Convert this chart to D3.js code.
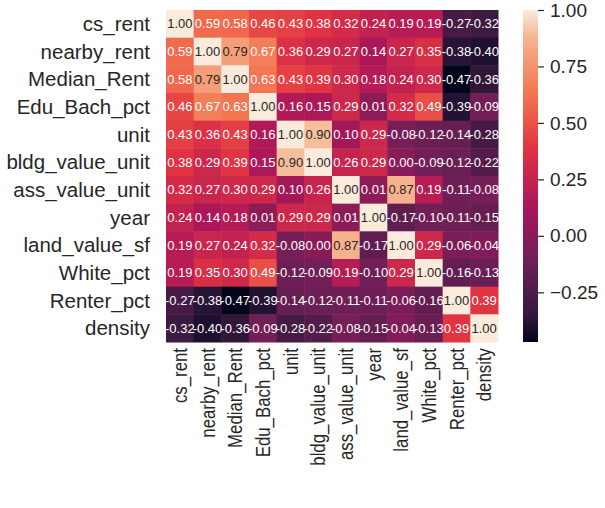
<!DOCTYPE html>
<html>
<head>
<meta charset="utf-8">
<script src="https://cdn.jsdelivr.net/npm/d3@7"></script>
<style>
  body { margin: 0; background: #fff; }
  text { font-family: "Liberation Sans", Arial, sans-serif; }
</style>
</head>
<body>
<div id="canvas"></div>
<script>
"use strict"

let svgWidth = 605
let svgHeight = 508

// variable names (rows and columns)
let names = ["cs_rent", "nearby_rent", "Median_Rent", "Edu_Bach_pct", "unit", "bldg_value_unit",
    "ass_value_unit", "year", "land_value_sf", "White_pct", "Renter_pct", "density"]

// correlation matrix, one row per variable
let corrRows = [
    [1.00, 0.59, 0.58, 0.46, 0.43, 0.38, 0.32, 0.24, 0.19, 0.19, -0.27, -0.32],
    [0.59, 1.00, 0.79, 0.67, 0.36, 0.29, 0.27, 0.14, 0.27, 0.35, -0.38, -0.40],
    [0.58, 0.79, 1.00, 0.63, 0.43, 0.39, 0.30, 0.18, 0.24, 0.30, -0.47, -0.36],
    [0.46, 0.67, 0.63, 1.00, 0.16, 0.15, 0.29, 0.01, 0.32, 0.49, -0.39, -0.09],
    [0.43, 0.36, 0.43, 0.16, 1.00, 0.90, 0.10, 0.29, -0.08, -0.12, -0.14, -0.28],
    [0.38, 0.29, 0.39, 0.15, 0.90, 1.00, 0.26, 0.29, 0.00, -0.09, -0.12, -0.22],
    [0.32, 0.27, 0.30, 0.29, 0.10, 0.26, 1.00, 0.01, 0.87, 0.19, -0.11, -0.08],
    [0.24, 0.14, 0.18, 0.01, 0.29, 0.29, 0.01, 1.00, -0.17, -0.10, -0.11, -0.15],
    [0.19, 0.27, 0.24, 0.32, -0.08, 0.00, 0.87, -0.17, 1.00, 0.29, -0.06, -0.04],
    [0.19, 0.35, 0.30, 0.49, -0.12, -0.09, 0.19, -0.10, 0.29, 1.00, -0.16, -0.13],
    [-0.27, -0.38, -0.47, -0.39, -0.14, -0.12, -0.11, -0.11, -0.06, -0.16, 1.00, 0.39],
    [-0.32, -0.40, -0.36, -0.09, -0.28, -0.22, -0.08, -0.15, -0.04, -0.13, 0.39, 1.00]
]

// colorbar ticks
let cbarTicks = [-0.25, 0.00, 0.25, 0.50, 0.75, 1.00]

// seaborn "rocket" colormap, approximated by a few stops
let rocketStops = ["#03051a", "#35193e", "#701f57", "#ad1759", "#e13342", "#f37651", "#f6b48f", "#faebdd"]
let rocketPos = [0, 0.083, 0.25, 0.417, 0.583, 0.75, 0.917, 1]

let heat = { left: 166, top: 10, size: 332 }

let svg = d3.select("#canvas")
    .append("svg")
    .attr("width", svgWidth)
    .attr("height", svgHeight)

// flatten matrix into cells
let cells = []
for (let i = 0; i < names.length; i++) {
    for (let j = 0; j < names.length; j++) {
        cells.push({ row: names[i], col: names[j], value: corrRows[i][j] })
    }
}

let vmin = d3.min(cells, d => d.value)
let vmax = d3.max(cells, d => d.value)

let xScale = d3.scaleBand().domain(names).range([heat.left, heat.left + heat.size])
let yScale = d3.scaleBand().domain(names).range([heat.top, heat.top + heat.size])

let colorScale = d3.scaleLinear()
    .domain(rocketPos.map(p => vmin + p * (vmax - vmin)))
    .range(rocketStops)
    .clamp(true)

// relative luminance, used to pick dark or light annotation text
function luminance(c) {
    let rgb = d3.rgb(c)
    let f = v => {
        v = v / 255
        return v <= 0.03928 ? v / 12.92 : Math.pow((v + 0.055) / 1.055, 2.4)
    }
    return 0.2126 * f(rgb.r) + 0.7152 * f(rgb.g) + 0.0722 * f(rgb.b)
}

// cells
svg.selectAll("rect.cell")
    .data(cells)
    .join("rect")
    .attr("class", "cell")
    .attr("x", d => xScale(d.col))
    .attr("y", d => yScale(d.row))
    .attr("width", xScale.bandwidth() + 0.5)
    .attr("height", yScale.bandwidth() + 0.5)
    .attr("fill", d => colorScale(d.value))

// annotations
let fmt = d3.format(".2f")
svg.selectAll("text.annot")
    .data(cells)
    .join("text")
    .attr("class", "annot")
    .attr("x", d => xScale(d.col) + xScale.bandwidth() / 2)
    .attr("y", d => yScale(d.row) + yScale.bandwidth() / 2)
    .attr("dy", "0.35em")
    .attr("text-anchor", "middle")
    .style("font-size", "13px")
    .attr("fill", d => luminance(colorScale(d.value)) > 0.408 ? "#262626" : "#ffffff")
    .text(d => fmt(d.value).replace("−", "-"))

// y labels
svg.selectAll("text.ylab")
    .data(names)
    .join("text")
    .attr("class", "ylab")
    .attr("x", heat.left - 16)
    .attr("y", d => yScale(d) + yScale.bandwidth() / 2)
    .attr("dy", "0.35em")
    .attr("text-anchor", "end")
    .style("font-size", "20.5px")
    .attr("fill", "#262626")
    .text(d => d)

// x labels, rotated (picture is a bit squeezed vertically)
svg.selectAll("text.xlab")
    .data(names)
    .join("text")
    .attr("class", "xlab")
    .attr("transform", d => `translate(${xScale(d) + xScale.bandwidth() / 2},${heat.top + heat.size + 6}) scale(1,0.82) rotate(-90)`)
    .attr("dy", "0.35em")
    .attr("text-anchor", "end")
    .style("font-size", "20.5px")
    .attr("fill", "#262626")
    .text(d => d)

// colorbar
let cbar = { x: 523, width: 15 }
let cScale = d3.scaleLinear().domain([vmin, vmax]).range([heat.top + heat.size, heat.top])

let grad = svg.append("defs").append("linearGradient")
    .attr("id", "cbarGrad")
    .attr("x1", 0).attr("y1", 1).attr("x2", 0).attr("y2", 0)
grad.selectAll("stop")
    .data(d3.range(0, 1.0001, 0.02))
    .join("stop")
    .attr("offset", d => d)
    .attr("stop-color", d => colorScale(vmin + d * (vmax - vmin)))

svg.append("rect")
    .attr("x", cbar.x)
    .attr("y", heat.top)
    .attr("width", cbar.width)
    .attr("height", heat.size)
    .attr("fill", "url(#cbarGrad)")

let cAxis = d3.axisRight(cScale)
    .tickValues(cbarTicks)
    .tickFormat(d3.format(".2f"))
    .tickSize(6)
    .tickPadding(6)

let cAxisG = svg.append("g")
    .attr("transform", `translate(${cbar.x + cbar.width},0)`)
    .call(cAxis)
cAxisG.select(".domain").remove()
cAxisG.selectAll("line").attr("stroke", "#262626").attr("stroke-width", 1.2)
cAxisG.selectAll("text")
    .style("font-size", "19px")
    .style("font-family", "'Liberation Sans', Arial, sans-serif")
    .attr("fill", "#262626")
</script>
</body>
</html>
